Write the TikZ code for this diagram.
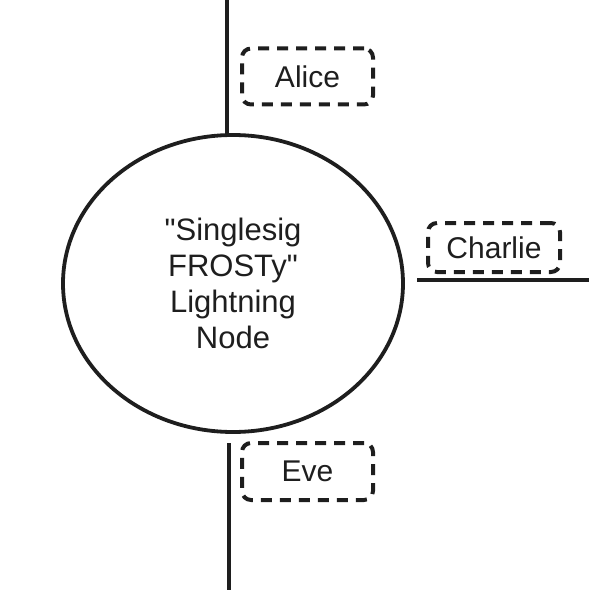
\documentclass[tikz,border=0pt]{standalone}
\usepackage{fontspec}
\setmainfont{Liberation Sans}[Ligatures=TeXOff]
\usetikzlibrary{shapes.geometric}
\definecolor{ink}{HTML}{1E1E1E}
\begin{document}
\begin{tikzpicture}[x=1pt,y=-1pt,
  wire/.style={draw=ink,line width=4pt},
  peer/.style={draw=ink,line width=4pt,dash pattern=on 11pt off 8pt,rounded corners=9pt,
    minimum width=131pt,minimum height=56pt,font=\fontsize{30}{36}\selectfont,text=ink},
  lnodestyle/.style={ellipse,draw=ink,line width=3.8pt,minimum width=340pt,minimum height=297pt,
    align=center,font=\fontsize{31}{36}\selectfont,text=ink}]
\useasboundingbox (0,0) rectangle (589,591);
\node[lnodestyle] (lnode) at (233,283.5) {"Singlesig\\FROSTy"\\ Lightning\\Node};
\node[peer] (alice) at (307.5,76.5) {Alice};
\node[peer,minimum width=132pt,minimum height=49pt] (charlie) at (494,247.5) {Charlie};
\node[peer,minimum height=57pt] (eve) at (307.5,471.5) {Eve};
\coordinate (t0) at (227,0);
\coordinate (t1) at (227,134);
\coordinate (r0) at (417,280);
\coordinate (r1) at (589,280);
\coordinate (b0) at (229,443);
\coordinate (b1) at (229,590);
\draw[wire] (t0) -- (t1);
\draw[wire] (r0) -- (r1);
\draw[wire] (b0) -- (b1);
\end{tikzpicture}
\end{document}
